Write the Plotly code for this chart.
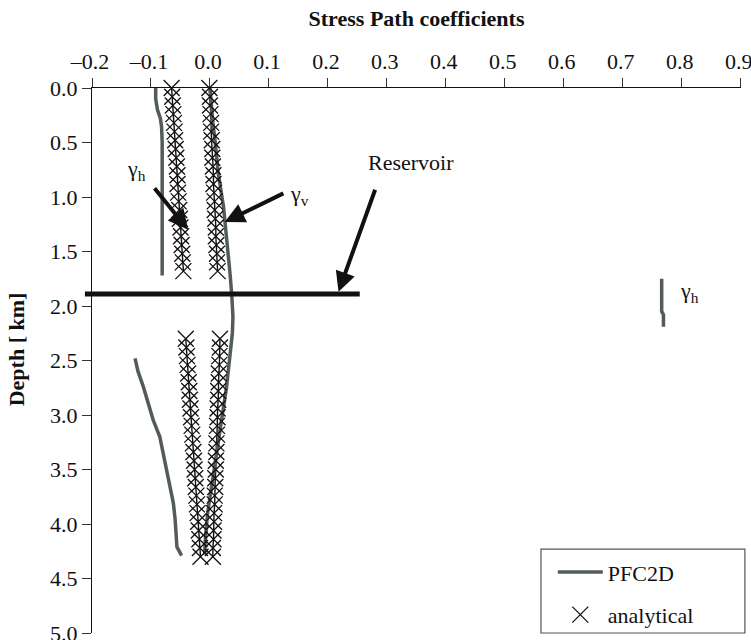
import plotly.graph_objects as go

# ---- PFC2D stress path coefficients (x = coefficient, depth in km) ----
gh_upper_x = [-0.092, -0.092, -0.089, -0.084, -0.082, -0.081, -0.081, -0.081]
gh_upper_d = [0.00, 0.10, 0.20, 0.28, 0.36, 0.50, 1.00, 1.72]

gv_x = [0.000, 0.002, 0.005, 0.009, 0.014, 0.023, 0.029, 0.034, 0.037, 0.039,
        0.038, 0.034, 0.028, 0.021, 0.014, 0.009, 0.003, -0.004, -0.008, -0.009]
gv_d = [0.00, 0.15, 0.32, 0.50, 0.78, 1.09, 1.39, 1.70, 1.90, 2.10,
        2.25, 2.45, 2.75, 3.00, 3.25, 3.45, 3.66, 3.90, 4.15, 4.28]

gh_lower_x = [-0.127, -0.122, -0.113, -0.105, -0.096, -0.085, -0.079, -0.073,
              -0.068, -0.062, -0.059, -0.057, -0.056, -0.048]
gh_lower_d = [2.48, 2.60, 2.74, 2.89, 3.05, 3.20, 3.35, 3.50,
              3.66, 3.81, 3.96, 4.10, 4.21, 4.29]

gh_res_x = [0.766, 0.766, 0.769, 0.769]
gh_res_d = [1.75, 2.05, 2.08, 2.19]

# ---- analytical solution ----
ana_upper_d = [0.00, 0.08, 0.16, 0.24, 0.32, 0.40, 0.48, 0.56, 0.64, 0.72, 0.80,
               0.88, 0.96, 1.04, 1.12, 1.20, 1.28, 1.36, 1.44, 1.52, 1.60, 1.68]
ana_gh_upper_x = [-0.065, -0.064, -0.063, -0.062, -0.061, -0.060, -0.059, -0.058,
                  -0.057, -0.056, -0.055, -0.055, -0.054, -0.053, -0.052, -0.051,
                  -0.050, -0.049, -0.048, -0.047, -0.046, -0.045]
ana_gv_upper_x = [-0.001, -0.000, 0.000, 0.001, 0.002, 0.002, 0.003, 0.004,
                  0.004, 0.005, 0.006, 0.006, 0.007, 0.008, 0.008, 0.009,
                  0.010, 0.010, 0.011, 0.012, 0.012, 0.013]

ana_lower_d = [2.30, 2.38, 2.46, 2.54, 2.62, 2.70, 2.78, 2.86, 2.94, 3.02, 3.10,
               3.18, 3.26, 3.34, 3.42, 3.50, 3.58, 3.66, 3.74, 3.82, 3.90, 3.98,
               4.06, 4.14, 4.22, 4.30]
ana_gh_lower_x = [-0.041, -0.040, -0.039, -0.038, -0.037, -0.036, -0.035, -0.034,
                  -0.033, -0.032, -0.031, -0.030, -0.029, -0.028, -0.027, -0.026,
                  -0.025, -0.024, -0.023, -0.022, -0.021, -0.020, -0.019, -0.018,
                  -0.017, -0.016]
ana_gv_lower_x = [0.017, 0.017, 0.016, 0.016, 0.015, 0.015, 0.014, 0.014,
                  0.013, 0.013, 0.012, 0.012, 0.011, 0.011, 0.010, 0.010,
                  0.009, 0.009, 0.008, 0.008, 0.007, 0.007, 0.006, 0.006,
                  0.005, 0.005]

reservoir_depth = 1.89
reservoir_x = [-0.212, 0.254]

x_ticks = [-0.2, -0.1, 0.0, 0.1, 0.2, 0.3, 0.4, 0.5, 0.6, 0.7, 0.8, 0.9]
x_ticktext = ["–0.2", "–0.1", "0.0", "0.1", "0.2", "0.3", "0.4", "0.5", "0.6", "0.7", "0.8", "0.9"]
y_ticks = [0.0, 0.5, 1.0, 1.5, 2.0, 2.5, 3.0, 3.5, 4.0, 4.5, 5.0]

X_RANGE = [-0.2, 0.9005]
Y_RANGE = [5.0, 0.0]

FONT = "Liberation Serif, Times New Roman, Times, serif"
GREY = "#545b5c"
INK = "#111111"


def joined(*segments):
    xs, ys = [], []
    for sx, sy in segments:
        if xs:
            xs.append(None)
            ys.append(None)
        xs.extend(sx)
        ys.extend(sy)
    return xs, ys


fig = go.Figure()

# analytical columns: thin vertical line plus x markers
ax_all, ay_all = joined((ana_gh_upper_x, ana_upper_d), (ana_gv_upper_x, ana_upper_d),
                        (ana_gh_lower_x, ana_lower_d), (ana_gv_lower_x, ana_lower_d))
fig.add_trace(go.Scatter(x=ax_all, y=ay_all, mode="lines",
                         line=dict(color=INK, width=1.4),
                         showlegend=False, hoverinfo="skip", cliponaxis=False))

px_all, py_all = joined((gh_upper_x, gh_upper_d), (gv_x, gv_d),
                        (gh_lower_x, gh_lower_d), (gh_res_x, gh_res_d))
fig.add_trace(go.Scatter(x=px_all, y=py_all, mode="lines", name="PFC2D",
                         line=dict(color=GREY, width=3.5), legendgroup="a"))

fig.add_trace(go.Scatter(x=ax_all, y=ay_all, mode="markers", name="analytical",
                         marker=dict(symbol="x-thin", size=16, color=INK,
                                     line=dict(color=INK, width=1.3)),
                         cliponaxis=False, legendgroup="b"))

# reservoir level
xspan = X_RANGE[1] - X_RANGE[0]
fig.add_shape(type="line", xref="paper", yref="y",
              x0=(reservoir_x[0] - X_RANGE[0]) / xspan,
              x1=(reservoir_x[1] - X_RANGE[0]) / xspan,
              y0=reservoir_depth, y1=reservoir_depth,
              line=dict(color=INK, width=5))

# legend frame
fig.add_shape(type="rect", xref="paper", yref="paper",
              x0=0.6918, x1=1.006, y0=0.0, y1=0.154,
              line=dict(color="#555555", width=1.2), fillcolor="white", layer="below")

txt = dict(family=FONT, size=22, color=INK)
fig.add_annotation(x=-0.124, y=0.75, text="γ<sub>h</sub>", showarrow=False, font=txt)
fig.add_annotation(x=0.151, y=0.98, text="γ<sub>v</sub>", showarrow=False, font=txt)
fig.add_annotation(x=0.264, y=0.68, text="Reservoir", showarrow=False, font=txt,
                   xanchor="left")
fig.add_annotation(x=0.793, y=1.87, text="γ<sub>h</sub>", showarrow=False, font=txt,
                   xanchor="left")

arrows = [((-0.096, 0.905), (-0.037, 1.30)),
          ((0.127, 0.96), (0.025, 1.23)),
          ((0.281, 0.92), (0.218, 1.87))]
for (tx, ty), (hx, hy) in arrows:
    fig.add_annotation(x=hx, y=hy, ax=tx, ay=ty, axref="x", ayref="y", text="",
                       showarrow=True, arrowhead=2, arrowsize=1.0, arrowwidth=4,
                       arrowcolor=INK, standoff=0)

# axis title on the left, rotated
fig.add_annotation(xref="paper", yref="paper", x=-0.116, y=0.52,
                   xanchor="center", yanchor="middle",
                   text="<b>Depth [ km]</b>", textangle=-90, showarrow=False,
                   font=dict(family=FONT, size=22, color=INK))

axis_font = dict(family=FONT, size=22, color=INK)
fig.update_layout(
    width=751, height=640,
    margin=dict(l=92, r=10, t=88, b=7, autoexpand=False),
    paper_bgcolor="white", plot_bgcolor="white",
    font=dict(family=FONT, size=22, color=INK),
    showlegend=True,
    legend=dict(x=0.71, y=0.15, xanchor="left", yanchor="top",
                bgcolor="rgba(0,0,0,0)", borderwidth=0,
                font=dict(family=FONT, size=22, color=INK),
                tracegroupgap=11, itemwidth=45),
    xaxis=dict(side="top", range=X_RANGE, tickvals=x_ticks, ticktext=x_ticktext,
               showgrid=False, zeroline=False, showline=True, linecolor=INK,
               linewidth=1.3, ticks="outside", ticklen=9, tickcolor="#333333",
               tickwidth=1.3, tickfont=axis_font, automargin=False,
               ticklabeloverflow="allow", ticklabelshift=-2,
               title=dict(text="<b>Stress Path coefficients</b>", standoff=16,
                          font=axis_font)),
    yaxis=dict(range=Y_RANGE, tickvals=y_ticks, tickformat=".1f",
               showgrid=False, zeroline=False, showline=True, linecolor=INK,
               linewidth=1.3, ticks="outside", ticklen=9, tickcolor="#333333",
               tickwidth=1.3, tickfont=axis_font, automargin=False,
               ticklabeloverflow="allow"),
)

fig.write_html("out.html")
